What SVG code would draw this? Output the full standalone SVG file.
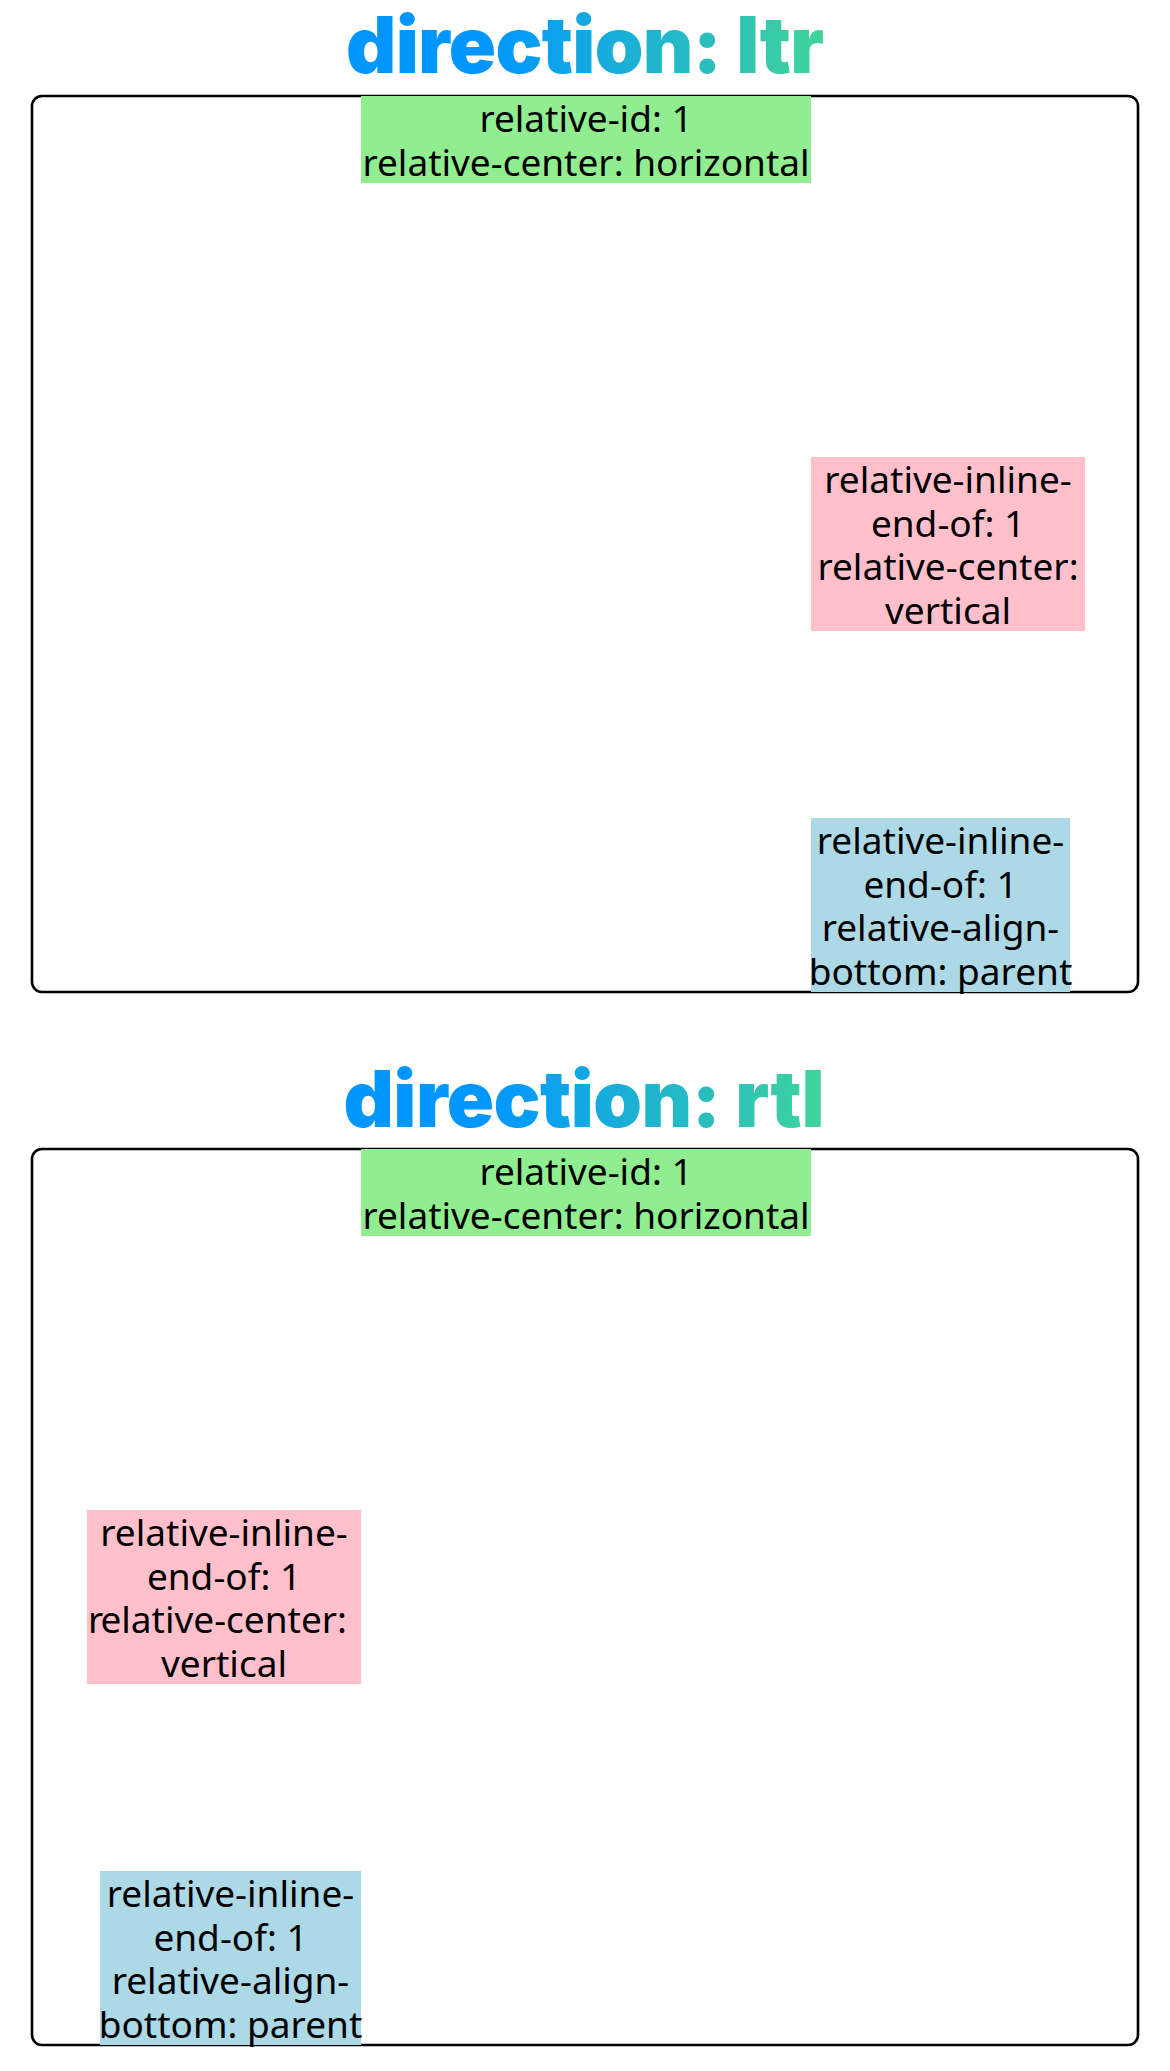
<svg xmlns="http://www.w3.org/2000/svg" width="1170" height="2071" viewBox="0 0 1170 2071">
<style>
.title{font-family:Inter,"Noto Sans",sans-serif;font-weight:900;font-size:78px;text-anchor:middle}
.frame{fill:none;stroke:#000;stroke-width:2.6}
.t{font-family:"Noto Sans","Open Sans",sans-serif;font-size:37px;fill:#000;text-anchor:middle}
.green{fill:#90EE90}
.pink{fill:#FFC0CB}
.blue{fill:#ADD8E6}
</style>
<defs>
<linearGradient id="g1" gradientUnits="userSpaceOnUse" x1="346" y1="0" x2="824" y2="0">
<stop offset="0" stop-color="#0096FF"/><stop offset="0.3" stop-color="#0096FF"/><stop offset="1" stop-color="#40D49A"/>
</linearGradient>
</defs>
<rect width="1170" height="2071" fill="#fff"/>
<g id="section-ltr">
<text class="title" x="585" y="73" fill="url(#g1)" textLength="478">direction: ltr</text>
<rect id="frame-ltr" class="frame" x="32" y="96" width="1106" height="896" rx="10"/>
<g id="ltr-node1"><rect class="green" x="361" y="96" width="450" height="87"/>
<text class="t" x="586" y="132">relative-id: 1</text>
<text class="t" x="586" y="175.5">relative-center: horizontal</text></g>
<g id="ltr-node2"><rect class="pink" x="811" y="457" width="274" height="174"/>
<text class="t" x="948" y="493">relative-inline-</text>
<text class="t" x="948" y="536.5">end-of: 1</text>
<text class="t" x="948" y="580">relative-center:</text>
<text class="t" x="948" y="623.5">vertical</text></g>
<g id="ltr-node3"><rect class="blue" x="811" y="818" width="259" height="174"/>
<text class="t" x="940.5" y="854">relative-inline-</text>
<text class="t" x="940.5" y="897.5">end-of: 1</text>
<text class="t" x="940.5" y="941">relative-align-</text>
<text class="t" x="940.5" y="984.5">bottom: parent</text></g>
</g>
<g id="section-rtl">
<text class="title" x="584" y="1127" fill="url(#g1)" textLength="481">direction: rtl</text>
<rect id="frame-rtl" class="frame" x="32" y="1149" width="1106" height="896" rx="10"/>
<g id="rtl-node1"><rect class="green" x="361" y="1149" width="450" height="87"/>
<text class="t" x="586" y="1185">relative-id: 1</text>
<text class="t" x="586" y="1228.5">relative-center: horizontal</text></g>
<g id="rtl-node2"><rect class="pink" x="87" y="1510" width="274" height="174"/>
<text class="t" x="224" y="1546">relative-inline-</text>
<text class="t" x="224" y="1589.5">end-of: 1</text>
<text class="t" x="88" y="1633" style="text-anchor:start">r</text>
<text class="t" x="347" y="1633" style="text-anchor:end">elative-center:</text>
<text class="t" x="224" y="1676.5">vertical</text></g>
<g id="rtl-node3"><rect class="blue" x="100" y="1871" width="261" height="174"/>
<text class="t" x="230.5" y="1907">relative-inline-</text>
<text class="t" x="230.5" y="1950.5">end-of: 1</text>
<text class="t" x="230.5" y="1994">relative-align-</text>
<text class="t" x="230.5" y="2037.5">bottom: parent</text></g>
</g>
<g id="connectors"/>
</svg>
